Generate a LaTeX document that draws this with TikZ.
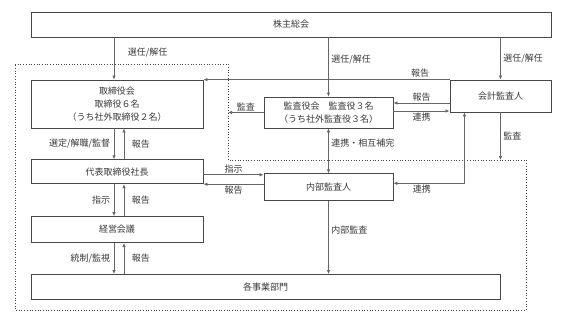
\documentclass[tikz,border=0pt]{standalone}
\usepackage{fontspec}
\setmainfont{Noto Sans CJK JP}
\usepackage{tikz}
\usetikzlibrary{
  arrows.meta,
  positioning,
  calc
}
\definecolor{BoxLine}{HTML}{474747}
\definecolor{ArrLine}{HTML}{666666}
\definecolor{InkGray}{HTML}{3A3A3A}
\tikzset{
  % Organisation box
  org/.style={
    rectangle, draw=BoxLine, line width=0.8pt, fill=white,
    minimum width=#1, align=center, inner sep=0pt,
    text=InkGray, font=\fontsize{9}{13}\selectfont
  },
  % One-way arrow
  arr/.style={
    -{Latex[length=4pt,width=3.5pt]},
    line width=0.7pt, draw=ArrLine
  },
  % Two-way arrow
  bi/.style={
    {Latex[length=4pt,width=3.5pt]}-{Latex[length=4pt,width=3.5pt]},
    line width=0.7pt, draw=ArrLine
  },
  % Edge label
  lbl/.style={font=\fontsize{9}{11}\selectfont, text=InkGray, inner sep=1.5pt},
  % Dotted company frame
  grp/.style={draw=BoxLine, dotted, line width=0.7pt}
}
\begin{document}
\begin{tikzpicture}[x=1pt,y=-1pt]
  \useasboundingbox (0,0) rectangle (566,324);

  % company frame
  \coordinate (grpA) at (15,64);
  \coordinate (grpB) at (228,64);
  \coordinate (grpC) at (228,160);
  \coordinate (grpD) at (526,160);
  \coordinate (grpE) at (526,310);
  \coordinate (grpF) at (15,310);
  \draw[grp] (grpA) -- (grpB) -- (grpC) -- (grpD) -- (grpE) -- (grpF) -- cycle;

  \node[org=520pt, minimum height=25pt] (gms) at (291,24.5) {株主総会};
  \node[org=172pt, minimum height=48pt] (bod) at (117,104) {取締役会\\取締役６名\\（うち社外取締役２名）};
  \node[org=129pt, minimum height=31pt] (kan) at (328.5,112.5) {監査役会　監査役３名\\（うち社外監査役３名）};
  \node[org=101pt, minimum height=32pt] (kai) at (500.5,96) {会計監査人};
  \node[org=172pt, minimum height=24pt, below=31pt of bod] (ceo) {代表取締役社長};
  \node[org=129pt, minimum height=27pt, below=45pt of kan] (nai) {内部監査人};
  \node[org=172pt, minimum height=26pt, below=32pt of ceo] (mgmt) {経営会議};
  \node[org=469pt, minimum height=25pt, below=31pt of mgmt.south west, anchor=north west] (depts) {各事業部門};

  \draw[arr] ([xshift=-3pt]bod.north |- gms.south) -- node[lbl, right=12pt, pos=0.35]{選任/解任} ([xshift=-3pt]bod.north);
  \draw[arr] (kan.north |- gms.south) -- node[lbl, right=1pt, pos=0.38]{選任/解任} (kan.north);
  \draw[arr] (kai.north |- gms.south) -- node[lbl, right=1pt]{選任/解任} (kai.north);

  \draw[arr] (kai.north west) -- node[lbl, above, pos=0.12]{報告} (bod.north east);
  \draw[arr] ([yshift=-7pt]kai.west) -- node[lbl, above]{報告} ([yshift=-7pt]kai.west -| kan.east);
  \draw[arr] ([yshift=-15pt]kai.west -| kan.east) -- node[lbl, below]{連携} ([yshift=-15pt]kai.west);
  \draw[arr] (kan.west) -- node[lbl, above]{監査} (kan.west -| grpB);
  \draw[arr] (kai.south) -- node[lbl, right=1pt]{監査} (kai.south |- grpD);

  \draw[bi] (kan.south) -- node[lbl, right=1pt, pos=0.33]{連携・相互補完} (nai.north);
  \draw[bi] ([yshift=4pt]nai.east) -| node[lbl, below, pos=0.2]{連携} ([xshift=-36pt]kai.south);
  \draw[arr] ([yshift=-3pt]ceo.east) -- node[lbl, above]{指示} ([yshift=-3pt]ceo.east -| nai.west);
  \draw[arr] (nai.west |- ceo.south east) -- node[lbl, below]{報告} (ceo.south east);
  \draw[arr] (nai.south) -- node[lbl, right=1pt, pos=0.4]{内部監査} (nai.south |- depts.north);

  \draw[arr] ([xshift=-3pt]bod.south) -- node[lbl, left=2pt]{選定/解職/監督} ([xshift=-3pt]ceo.north);
  \draw[arr] ([xshift=7pt]ceo.north) -- node[lbl, right=6pt]{報告} ([xshift=7pt]bod.south);
  \draw[arr] ([xshift=-3pt]ceo.south) -- node[lbl, left=2pt]{指示} ([xshift=-3pt]mgmt.north);
  \draw[arr] ([xshift=7pt]mgmt.north) -- node[lbl, right=6pt]{報告} ([xshift=7pt]ceo.south);
  \draw[arr] ([xshift=-3pt]mgmt.south) -- node[lbl, left=2pt]{統制/監視} ([xshift=-3pt]mgmt.south |- depts.north);
  \draw[arr] ([xshift=7pt]mgmt.south |- depts.north) -- node[lbl, right=6pt]{報告} ([xshift=7pt]mgmt.south);
\end{tikzpicture}
\end{document}
